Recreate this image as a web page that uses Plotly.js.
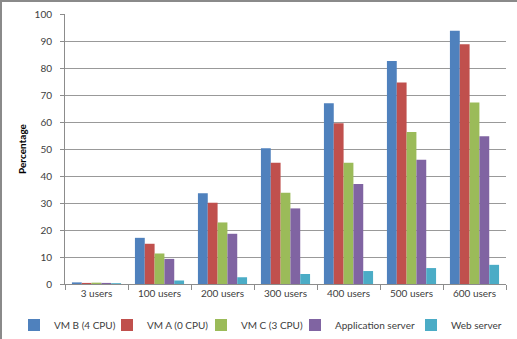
<!DOCTYPE html>
<html><head><meta charset="utf-8">
<script src="https://cdn.plot.ly/plotly-3.0.1.min.js"></script>
<style>
html,body{margin:0;padding:0;background:#fff;}
#chart{width:517px;height:339px;box-sizing:border-box;border-left:2px solid #8a8a8a;border-top:2px solid #8a8a8a;}
</style></head>
<body><div id="chart"></div>
<script>
const categories = ["3 users","100 users","200 users","300 users","400 users","500 users","600 users"];
const seriesNames = ["VM B (4 CPU)","VM A (0 CPU)","VM C (3 CPU)","Application server","Web server"];
const vmB = [0.6, 17.1, 33.6, 50.3, 66.9, 82.6, 93.8];
const vmA = [0.4, 14.9, 30.1, 44.9, 59.5, 74.6, 88.8];
const vmC = [0.5, 11.3, 22.8, 33.8, 44.9, 56.3, 67.2];
const appServer = [0.4, 9.3, 18.6, 28.0, 37.0, 46.0, 54.7];
const webServer = [0.3, 1.3, 2.5, 3.7, 4.8, 5.9, 7.1];
const colors = ["#4F81BD","#C0504D","#9BBB59","#8064A2","#4BACC6"];
const allValues = [vmB, vmA, vmC, appServer, webServer];
const legendIds = ["legend","legend2","legend3","legend4","legend5"];
const legendTextX = [54, 147, 241, 335, 451];

const traces = allValues.map((vals, i) => ({
  type: "bar", name: seriesNames[i], x: categories, y: vals,
  legend: legendIds[i],
  marker: {color: colors[i], line: {width: 0}}
}));

const layout = {
  width: 515, height: 337,
  margin: {l: 63, r: 11, t: 12, b: 55, autoexpand: false},
  paper_bgcolor: "#fff", plot_bgcolor: "#fff",
  font: {family: "Lato, 'Open Sans', sans-serif", size: 10, color: "#404040"},
  barmode: "group", bargap: 0.22, bargroupgap: 0,
  showlegend: true,
  xaxis: {type: "category", showline: true, linecolor: "#8c8c8c", linewidth: 1,
          ticks: "outside", tickson: "boundaries", ticklen: 5, tickcolor: "#8c8c8c",
          showgrid: false, tickfont: {size: 10}},
  yaxis: {range: [0, 100], dtick: 10, showline: true, linecolor: "#8c8c8c", linewidth: 1,
          ticks: "outside", ticklen: 4, tickcolor: "#8c8c8c",
          showgrid: true, gridcolor: "#999999", gridwidth: 1, zeroline: false,
          tickfont: {size: 10}, ticklabelstandoff: 6,
          title: {text: "Percentage", font: {size: 10, color: "#000", weight: "bold"}, standoff: 6}}
};
legendIds.forEach((id, i) => {
  layout[id] = {orientation: "h", xref: "container", yref: "container",
    x: (legendTextX[i] - 40 - 2) / 515, xanchor: "left", y: (337 - 323) / 337, yanchor: "middle",
    font: {size: 10, color: "#404040"}, itemwidth: 30, bgcolor: "rgba(0,0,0,0)"};
});
Plotly.newPlot("chart", traces, layout, {displayModeBar: false, staticPlot: true});
</script></body></html>
